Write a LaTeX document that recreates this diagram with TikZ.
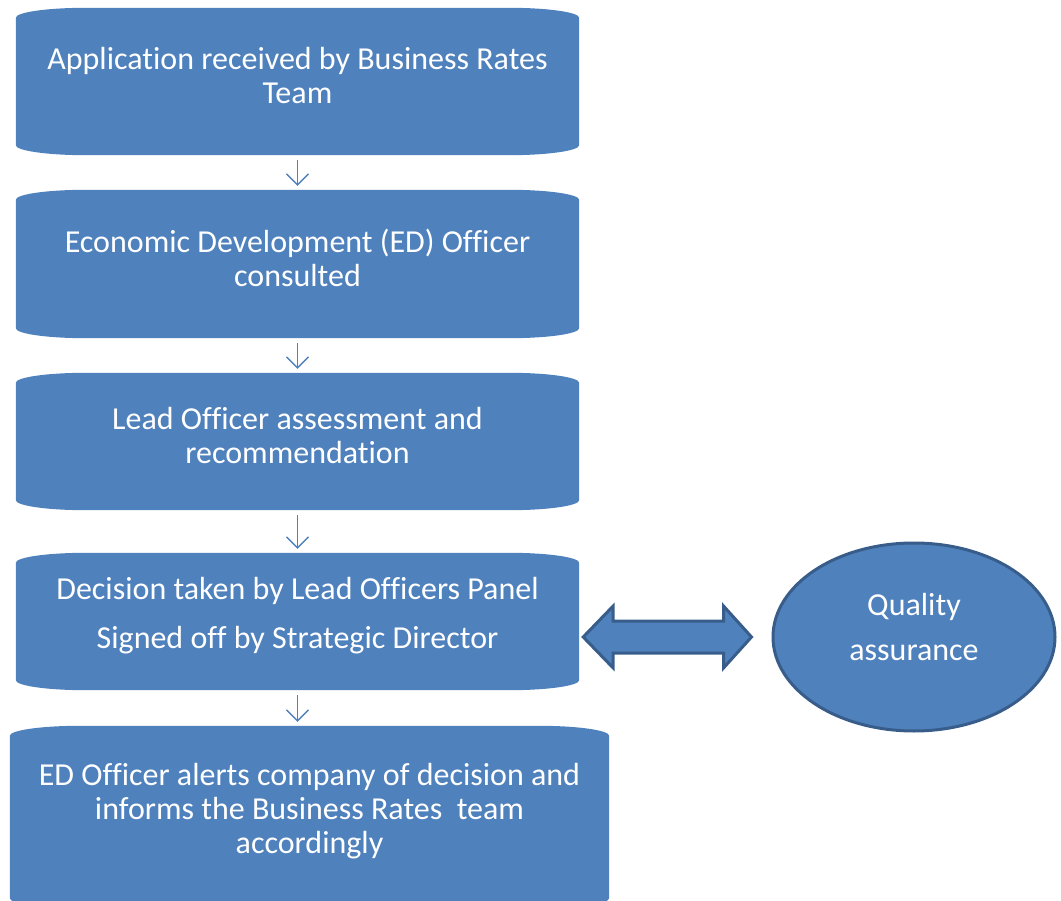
\documentclass[tikz,border=0pt]{standalone}
\usepackage{fontspec}
\setmainfont[Ligatures=NoCommon]{Carlito}
\usetikzlibrary{arrows.meta,calc,shapes.geometric}
\definecolor{ppblue}{HTML}{4F81BD}
\definecolor{ppdark}{HTML}{385D8A}
\begin{document}
\begin{tikzpicture}[x=1pt, y=-1pt,
    block/.style={rectangle, minimum width=563pt, minimum height=#1, inner sep=0pt},
    block/.default=147pt,
    blocktext/.style={text=white, align=center, font=\fontsize{32pt}{34pt}\selectfont},
    blockfill/.style={fill=ppblue},
    arrow/.style={-{Straight Barb[length=11pt,width=22pt]}, ppblue, line width=1.3pt, shorten <=5pt, shorten >=4pt},
    bigarrow/.style={fill=ppblue, draw=ppdark, line width=3pt, line join=miter},
    qabox/.style={ellipse, fill=ppblue, draw=ppdark, line width=3pt, minimum width=282pt, minimum height=188pt, inner sep=0pt}
]
\useasboundingbox (0,0) rectangle (1061,901);

\node[block] (s1) at (297.5,81.5) {};
\node[block=148pt] (s2) at (297.5,264) {};
\node[block=137pt] (s3) at (297.5,441.5) {};
\node[block=137pt] (s4) at (297.5,621.5) {};
\node[block=182pt, minimum width=599pt] (s5) at (309.5,817) {};

\foreach \n in {s1,s2,s3,s4,s5}
  \fill[blockfill] ([yshift=-10pt]\n.north west) arc[start angle=180, end angle=90, x radius=70pt, y radius=10pt]
    -- ([xshift=-70pt]\n.north east) arc[start angle=90, end angle=0, x radius=70pt, y radius=10pt]
    -- ([yshift=10pt]\n.south east) arc[start angle=0, end angle=-90, x radius=70pt, y radius=10pt]
    -- ([xshift=70pt]\n.south west) arc[start angle=270, end angle=180, x radius=70pt, y radius=10pt]
    -- cycle;

\node[blocktext, yshift=6pt] (t1) at (s1) {Application received by Business Rates\\Team};
\node[blocktext, yshift=6pt] (t2) at (s2) {Economic Development (ED) Officer\\consulted};
\node[blocktext, yshift=6pt] (t3) at (s3) {Lead Officer assessment and\\recommendation};
\node[blocktext, yshift=6pt] (t4) at (s4) {Decision taken by Lead Officers Panel\\[15pt]Signed off by Strategic Director};
\node[blocktext, yshift=6pt] (t5) at (s5) {ED Officer alerts company of decision and\\informs the Business Rates\ \ team\\accordingly};

\node[qabox] (qa) at (914,637) {};
\node[blocktext, font=\fontsize{32pt}{45pt}\selectfont, yshift=10pt] (tq) at (qa) {Quality\\assurance};

\draw[arrow] (s1) -- (s2);
\draw[arrow] (s2) -- (s3);
\draw[arrow] (s3) -- (s4);
\draw[arrow] (s4.south) -- (s5.north -| s4.south);

% double block arrow between decision and quality assurance
\coordinate (la) at ([xshift=4pt]s4.east |- qa.west);
\coordinate (ra) at ([xshift=-20pt]qa.west);
\draw[bigarrow] (la) -- ++(30,-31) -- ++(0,15) -- ($(ra)+(-28,-16)$) -- ++(0,-15)
  -- (ra) -- ++(-28,31) -- ++(0,-15) -- ($(la)+(30,16)$) -- ++(0,15) -- cycle;
\end{tikzpicture}
\end{document}
